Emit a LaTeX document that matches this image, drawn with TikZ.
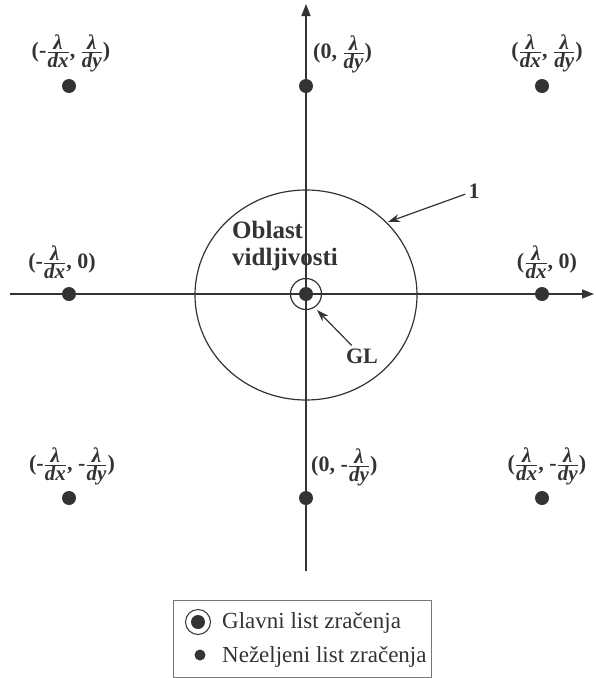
\documentclass[tikz,border=0pt]{standalone}
\usepackage{fontspec}
\setmainfont{Liberation Serif}
\usetikzlibrary{arrows.meta}
\definecolor{ink}{HTML}{333333}
\definecolor{boxc}{HTML}{777777}
\newcommand{\fpart}[1]{\hbox{\fontsize{21}{21}\selectfont\bfseries\itshape #1}}
\newcommand{\fr}[2]{$\frac{\fpart{#1}}{\fpart{#2}}$}
\tikzset{
  dot/.style={circle, fill=ink, minimum size=14pt, inner sep=0pt},
  ringmark/.style={circle, draw=ink, line width=1.2pt, minimum size=31pt, inner sep=0pt},
  axisline/.style={draw=ink, line width=1.4pt, -{Triangle[length=12pt,width=9pt]}},
  plain/.style={draw=ink, line width=1.2pt},
  ptr/.style={draw=ink, line width=1.2pt, -{Stealth[length=12pt,width=8pt]}},
  coord/.style={font=\fontsize{22}{24}\selectfont\bfseries, text=ink, inner sep=0pt},
  lbl/.style={font=\fontsize{22}{24}\selectfont\bfseries, text=ink, inner sep=3pt},
  big/.style={font=\fontsize{25}{27}\selectfont\bfseries, text=ink, inner sep=0pt, anchor=base west},
  legtext/.style={font=\fontsize{23}{25}\selectfont, text=ink, inner sep=0pt, anchor=base west}
}
\begin{document}
\begin{tikzpicture}[x=1pt,y=-1pt]
\useasboundingbox (0,0) rectangle (595,678);
% axes
\coordinate (xs) at (10,294);
\coordinate (xe) at (594,294);
\coordinate (ys) at (306,571);
\coordinate (ye) at (306,4);
\draw[axisline] (xs) -- (xe);
\draw[axisline] (ys) -- (ye);
% visibility region
\coordinate (cc) at (306,295);
\draw[plain] (cc) ellipse [x radius=111, y radius=105];
% dots
\node[dot] (d11) at (69,86) {};
\node[dot] (d12) at (306,86) {};
\node[dot] (d13) at (542,86) {};
\node[dot] (d21) at (69,294) {};
\node[dot] (d23) at (542,294) {};
\node[dot] (d31) at (69,498) {};
\node[dot] (d32) at (306,498) {};
\node[dot] (d33) at (542,498) {};
\node[dot] (c) at (306,294) {};
\node[ringmark] (cr) at (306,294) {};
% coordinate labels
\node[coord] (l11) at (71,53) {(-\fr{λ}{dx}, \fr{λ}{dy})};
\node[coord, anchor=west] (l12) at (313,54) {(0, \fr{λ}{dy})};
\node[coord] (l13) at (547,53) {(\fr{λ}{dx}, \fr{λ}{dy})};
\node[coord] (l21) at (62,262) {(-\fr{λ}{dx}, 0)};
\node[coord] (l23) at (547,262) {(\fr{λ}{dx}, 0)};
\node[coord] (l31) at (72,466) {(-\fr{λ}{dx}, -\fr{λ}{dy})};
\node[coord, anchor=west] (l32) at (311,467) {(0, -\fr{λ}{dy})};
\node[coord] (l33) at (547,466) {(\fr{λ}{dx}, -\fr{λ}{dy})};
% texts
\node[big] (ob1) at (232,238) {Oblast};
\node[big] (ob2) at (232,265) {vidljivosti};
\node[lbl] (one) at (474,191) {1};
\coordinate (onetip) at (388,222);
\draw[ptr] (one) -- (onetip);
\node[lbl] (gl) at (362,356) {GL};
\coordinate (gltip) at (317,310);
\draw[ptr] (gl) -- (gltip);
% legend
\node[draw=boxc, line width=0.9pt, minimum width=258pt, minimum height=77pt, inner sep=0pt] (leg) at (302,638.5) {};
\node[circle, draw=ink, line width=1pt, minimum size=25pt, inner sep=0pt] (lr) at (198,622) {};
\node[circle, fill=ink, minimum size=14pt, inner sep=0pt] (ld1) at (198,622) {};
\node[legtext] (lt1) at (222,628) {Glavni list zračenja};
\node[circle, fill=ink, minimum size=11pt, inner sep=0pt] (ld2) at (200,655) {};
\node[legtext] (lt2) at (222,662) {Neželjeni list zračenja};
\end{tikzpicture}
\end{document}
